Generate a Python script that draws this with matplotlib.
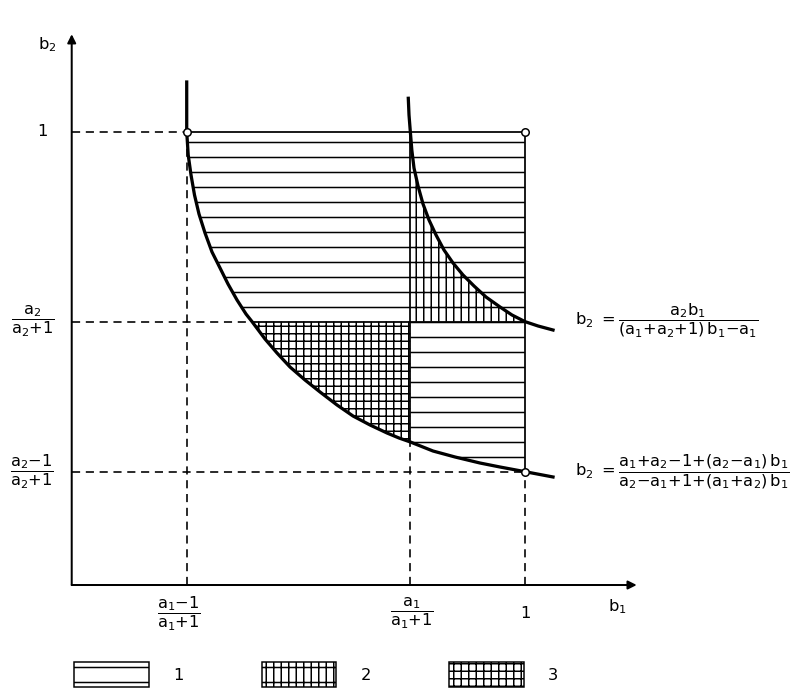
import numpy as np
import matplotlib
matplotlib.use('Agg')
import matplotlib.pyplot as plt
from matplotlib.patches import Patch

plt.rcParams['mathtext.fontset'] = 'dejavusans'
plt.rcParams['mathtext.default'] = 'regular'
plt.rcParams['hatch.linewidth'] = 1.2

# tick positions (schematic units)
x_lo = 0.2537   # (a1-1)/(a1+1)
x_mid = 0.747   # a1/(a1+1)
y_mid = 0.581   # a2/(a2+1)
y_lo = 0.25     # (a2-1)/(a2+1)

# lower curve  b2 = (a1+a2-1+(a2-a1)b1) / (a2-a1+1+(a1+a2)b1)
low_x = [0.2537, 0.2537, 0.2537, 0.2570, 0.2632, 0.2709, 0.2808, 0.2941, 0.3095,
         0.3272, 0.3448, 0.3647, 0.3845, 0.3978, 0.4264, 0.4529, 0.4816, 0.5147,
         0.5478, 0.5853, 0.6206, 0.6581, 0.6956, 0.7220, 0.747, 0.7970, 0.8456,
         0.9007, 0.9449, 1.0, 1.0618]
low_y = [1.1096, 1.0589, 1.0, 0.9486, 0.9045, 0.8603, 0.8184, 0.7765, 0.7346,
         0.6993, 0.6640, 0.6287, 0.5978, 0.581, 0.5427, 0.5118, 0.4809, 0.4522,
         0.4258, 0.3971, 0.3728, 0.3530, 0.3353, 0.3243, 0.3155, 0.2956, 0.2824,
         0.2691, 0.2603, 0.25, 0.2383]

# upper curve  b2 = a2 b1 / ((a1+a2+1)b1 - a1)
up_x = [0.7425, 0.7441, 0.747, 0.7503, 0.7551, 0.7640, 0.7750, 0.7882, 0.8037,
        0.8213, 0.8412, 0.8632, 0.8875, 0.9140, 0.9449, 0.9713, 1.0, 1.0287, 1.0618]
up_y = [1.0737, 1.0368, 1.0, 0.9596, 0.9199, 0.8802, 0.8405, 0.8052, 0.7721,
        0.7390, 0.7103, 0.6839, 0.6596, 0.6353, 0.6133, 0.5956, 0.581, 0.5714, 0.5625]

region_labels = ['1', '2', '3']
region_hatch = ['-', '-||', '--||']

lx, ly = np.array(low_x), np.array(low_y)
ux, uy = np.array(up_x), np.array(up_y)
y_low_at_mid = ly[lx == x_mid][0]
x_low_at_ymid = lx[ly == y_mid][0]

fig = plt.figure(figsize=(793 / 90, 688 / 90), dpi=90)
ax = fig.add_axes([0, 0, 1, 1])
ax.set_xlim(-0.1582, 1.5912)
ax.set_ylim(-0.2272, 1.2905)
ax.axis('off')

# region 1
m = (lx >= x_lo) & (ly <= 1) & (lx <= 1)
ax.fill_between(lx[m], ly[m], 1, facecolor='none', edgecolor='black',
                hatch=region_hatch[0], linewidth=0, zorder=1)
# region 3
m = (lx >= x_low_at_ymid) & (lx <= x_mid)
ax.fill_between(lx[m], ly[m], y_mid, facecolor='white', edgecolor='black',
                hatch=region_hatch[2], linewidth=0, zorder=2)
# region 2
m = (ux >= x_mid) & (ux <= 1)
ax.fill_between(ux[m], y_mid, uy[m], facecolor='white', edgecolor='black',
                hatch=region_hatch[1], linewidth=0, zorder=2)

solid = dict(color='black', lw=1.4, zorder=3)
ax.plot([x_lo, 1], [1, 1], **solid)
ax.plot([1, 1], [1, y_lo], **solid)
ax.plot([x_mid, x_mid], [1, y_low_at_mid], **solid)
ax.plot([x_low_at_ymid, 1], [y_mid, y_mid], **solid)

dash = dict(color='black', lw=1.3, ls=(0, (5, 3.5)), zorder=3)
ax.plot([0, x_lo], [1, 1], **dash)
ax.plot([0, x_low_at_ymid], [y_mid, y_mid], **dash)
ax.plot([0, 1], [y_lo, y_lo], **dash)
ax.plot([x_lo, x_lo], [0, 1], **dash)
ax.plot([x_mid, x_mid], [0, y_low_at_mid], **dash)
ax.plot([1, 1], [0, y_lo], **dash)

ax.plot(lx, ly, color='black', lw=2.6, zorder=4, solid_joinstyle='round')
ax.plot(ux, uy, color='black', lw=2.6, zorder=4, solid_joinstyle='round')
ax.plot([x_lo, 1, 1], [1, 1, y_lo], 'o', ms=6, mfc='white', mec='black', mew=1.2, zorder=5)

# axes with arrows
arr = dict(arrowstyle='-|>', lw=1.6, color='black', mutation_scale=14, shrinkA=0, shrinkB=0)
ax.annotate('', xy=(1.2464, 0), xytext=(0, 0), arrowprops=arr)
ax.annotate('', xy=(0, 1.215), xytext=(0, 0), arrowprops=arr)

fs = 13
ax.text(1.203, -0.048, '$b_1$', fontsize=fs, ha='center', va='center')
ax.text(-0.0545, 1.193, '$b_2$', fontsize=fs, ha='center', va='center')

ax.text(-0.0655, 1, '1', fontsize=fs, ha='center', va='center')
ax.text(-0.085, y_mid, r'$\dfrac{a_2}{a_2{+}1}$', fontsize=fs, ha='center', va='center')
ax.text(-0.087, y_lo, r'$\dfrac{a_2{-}1}{a_2{+}1}$', fontsize=fs, ha='center', va='center')

ax.text(0.2356, -0.0624, r'$\dfrac{a_1{-}1}{a_1{+}1}$', fontsize=fs, ha='center', va='center')
ax.text(0.7496, -0.0624, r'$\dfrac{a_1}{a_1{+}1}$', fontsize=fs, ha='center', va='center')
ax.text(1.0, -0.0624, '1', fontsize=fs, ha='center', va='center')

ax.text(1.110, y_mid + 0.002,
        r'$b_2\ {=}\dfrac{a_2 b_1}{(a_1{+}a_2{+}1)\,b_1{-}a_1}$',
        fontsize=fs, ha='left', va='center')
ax.text(1.110, y_lo,
        r'$b_2\ {=}\dfrac{a_1{+}a_2{-}1{+}(a_2{-}a_1)\,b_1}{a_2{-}a_1{+}1{+}(a_1{+}a_2)\,b_1}$',
        fontsize=fs, ha='left', va='center')

handles = [Patch(facecolor='white', edgecolor='black', hatch=h, linewidth=1.2)
           for h in region_hatch]
ax.legend(handles, region_labels, loc='lower left', bbox_to_anchor=(74 / 793, 1 / 688),
          bbox_transform=fig.transFigure, ncol=3, frameon=False, fontsize=fs,
          handlelength=4.6, handleheight=2.0, handletextpad=1.5, columnspacing=4.8,
          borderpad=0, borderaxespad=0)

fig.savefig('out.png', dpi=90)
